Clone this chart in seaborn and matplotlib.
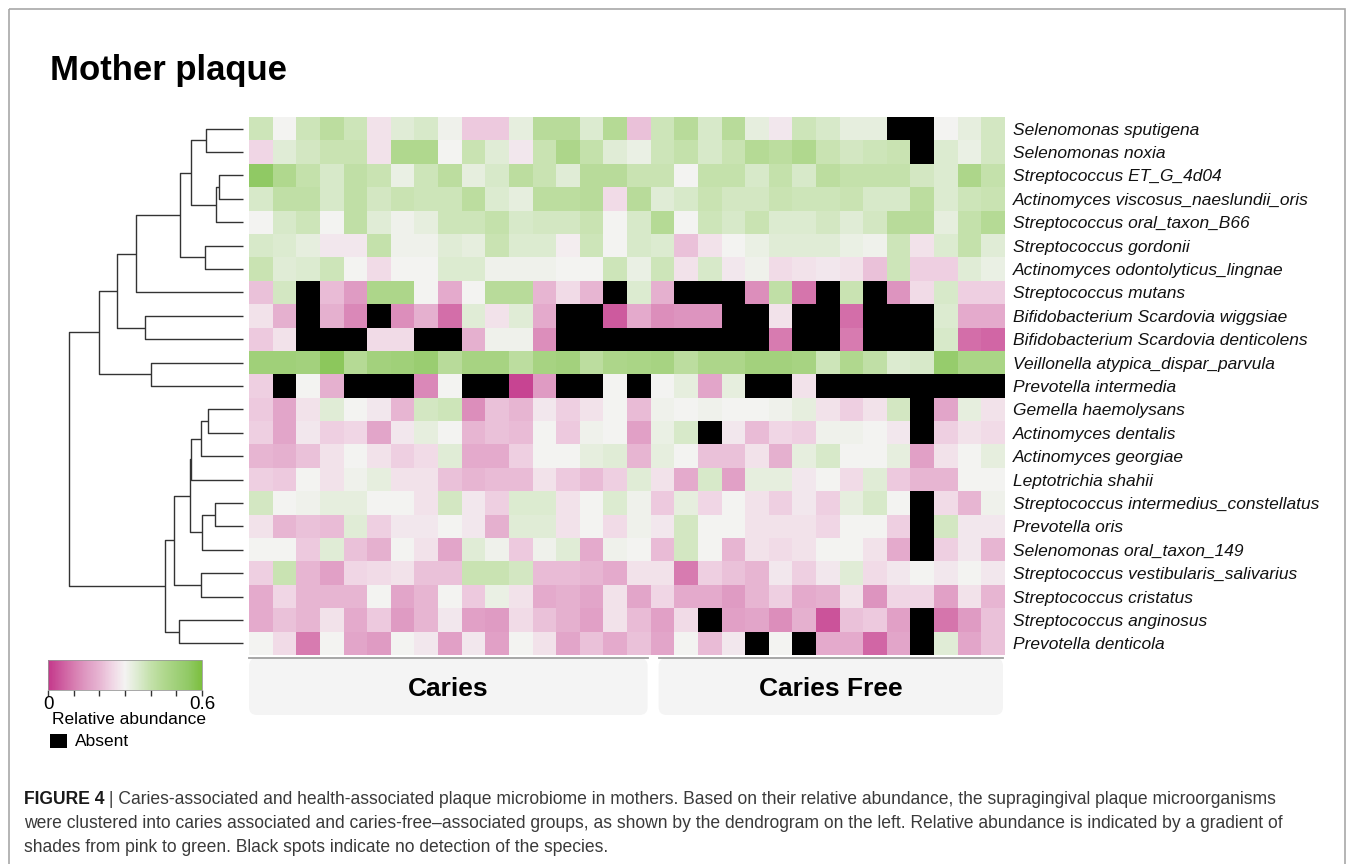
import matplotlib
matplotlib.use("Agg")
import matplotlib.pyplot as plt
from matplotlib.colors import LinearSegmentedColormap
from matplotlib.patches import Rectangle, FancyBboxPatch
import numpy as np
import pandas as pd
import seaborn as sns

W, H = 1355, 864
NA = None  # species not detected -> drawn black

species = [
    "Selenomonas sputigena", "Selenomonas noxia", "Streptococcus ET_G_4d04",
    "Actinomyces viscosus_naeslundii_oris", "Streptococcus oral_taxon_B66",
    "Streptococcus gordonii", "Actinomyces odontolyticus_lingnae",
    "Streptococcus mutans", "Bifidobacterium Scardovia wiggsiae",
    "Bifidobacterium Scardovia denticolens", "Veillonella atypica_dispar_parvula",
    "Prevotella intermedia", "Gemella haemolysans", "Actinomyces dentalis",
    "Actinomyces georgiae", "Leptotrichia shahii",
    "Streptococcus intermedius_constellatus", "Prevotella oris",
    "Selenomonas oral_taxon_149", "Streptococcus vestibularis_salivarius",
    "Streptococcus cristatus", "Streptococcus anginosus", "Prevotella denticola",
]

# relative abundance, caries mothers (17 samples)
caries_abund = [
    [.38, .30, .38, .42, .38, .27, .34, .36, .31, .23, .23, .33, .43, .43, .35, .44, .22],
    [.25, .34, .37, .39, .39, .27, .45, .45, .30, .39, .34, .28, .39, .46, .40, .34, .32],
    [.55, .45, .40, .36, .41, .39, .32, .38, .42, .33, .36, .42, .39, .34, .43, .43, .39],
    [.36, .41, .41, .36, .41, .37, .39, .38, .38, .42, .35, .33, .42, .42, .43, .26, .43],
    [.30, .36, .38, .30, .41, .34, .31, .33, .38, .38, .40, .36, .37, .37, .39, .30, .36],
    [.36, .35, .33, .28, .28, .40, .31, .31, .34, .33, .39, .35, .35, .29, .38, .30, .36],
    [.39, .34, .35, .38, .30, .26, .30, .30, .35, .35, .31, .31, .31, .30, .30, .38, .32],
    [.22, .37, NA, .21, .15, .46, .46, .30, .18, .30, .43, .43, .20, .26, .20, NA, .35],
    [.27, .19, NA, .19, .12, NA, .13, .19, .08, .34, .27, .34, .18, NA, NA, .05, .18],
    [.23, .27, NA, NA, NA, .26, .26, NA, NA, .19, .31, .31, .13, NA, NA, NA, NA],
    [.50, .50, .49, .56, .44, .49, .50, .52, .43, .48, .48, .42, .48, .49, .42, .46, .47],
    [.24, NA, .30, .19, NA, NA, NA, .12, .30, NA, NA, .02, .15, NA, NA, .30, NA],
    [.23, .17, .27, .34, .30, .28, .20, .37, .38, .13, .22, .20, .28, .24, .27, .30, .21],
    [.24, .17, .28, .24, .25, .17, .28, .33, .30, .20, .22, .21, .30, .23, .31, .30, .16],
    [.20, .19, .22, .27, .30, .27, .24, .26, .34, .18, .18, .24, .30, .30, .33, .34, .20],
    [.24, .23, .30, .27, .31, .33, .27, .27, .22, .20, .21, .21, .27, .23, .21, .24, .34],
    [.37, .30, .31, .33, .33, .30, .30, .27, .37, .28, .24, .35, .35, .27, .30, .35, .31],
    [.27, .20, .22, .21, .34, .24, .28, .28, .30, .28, .19, .34, .34, .27, .30, .26, .31],
    [.30, .30, .23, .34, .22, .19, .30, .27, .17, .34, .31, .23, .31, .34, .18, .31, .30],
    [.24, .39, .20, .16, .25, .26, .27, .22, .22, .39, .39, .37, .21, .21, .20, .18, .27],
    [.18, .25, .20, .20, .20, .30, .17, .20, .30, .23, .32, .27, .18, .19, .17, .27, .17],
    [.18, .22, .20, .27, .18, .23, .15, .20, .28, .16, .15, .26, .22, .19, .16, .27, .21],
    [.30, .26, .10, .30, .17, .15, .30, .28, .16, .28, .16, .30, .27, .17, .22, .18, .22],
]

# relative abundance, caries-free mothers (15 samples)
free_abund = [
    [.38, .43, .36, .43, .33, .28, .38, .36, .33, .33, NA, NA, .30, .33, .37],
    [.38, .40, .36, .39, .44, .42, .45, .39, .37, .38, .39, NA, .35, .32, .37],
    [.39, .30, .40, .40, .36, .40, .36, .42, .40, .40, .40, .37, .35, .46, .40],
    [.34, .36, .39, .37, .37, .39, .38, .38, .39, .36, .36, .42, .35, .38, .39],
    [.44, .30, .38, .36, .39, .35, .35, .37, .34, .37, .43, .43, .33, .40, .44],
    [.35, .22, .27, .30, .32, .34, .34, .34, .32, .31, .38, .27, .35, .40, .34],
    [.38, .27, .36, .28, .31, .26, .27, .28, .27, .22, .38, .24, .24, .34, .32],
    [.19, NA, NA, NA, .13, .41, .09, NA, .39, NA, .14, .26, .36, .24, .24],
    [.13, .14, .14, NA, NA, .27, NA, NA, .08, NA, NA, NA, .35, .18, .18],
    [NA, NA, NA, NA, NA, .10, NA, NA, .10, NA, NA, NA, .36, .08, .07],
    [.48, .42, .46, .46, .49, .49, .48, .38, .45, .41, .35, .36, .53, .47, .47],
    [.30, .33, .17, .33, NA, NA, .27, NA, NA, NA, NA, NA, NA, NA, NA],
    [.31, .30, .31, .30, .30, .31, .33, .27, .24, .27, .37, NA, .17, .33, .27],
    [.32, .36, NA, .28, .21, .25, .24, .31, .31, .30, .28, NA, .24, .27, .26],
    [.33, .30, .22, .22, .27, .19, .33, .36, .30, .30, .33, .16, .27, .30, .33],
    [.27, .18, .36, .16, .33, .33, .28, .30, .26, .34, .23, .20, .20, .30, .30],
    [.23, .33, .25, .30, .27, .24, .28, .24, .33, .36, .30, NA, .26, .20, .31],
    [.28, .37, .30, .30, .27, .27, .27, .25, .30, .30, .24, NA, .37, .28, .28],
    [.21, .37, .30, .20, .27, .26, .27, .30, .30, .27, .18, NA, .24, .28, .20],
    [.27, .10, .24, .22, .20, .28, .24, .28, .34, .26, .28, .30, .28, .30, .28],
    [.25, .18, .18, .15, .20, .24, .18, .19, .27, .14, .25, .25, .16, .27, .20],
    [.16, .26, NA, .16, .17, .13, .19, .04, .22, .23, .16, NA, .09, .15, .22],
    [.17, .30, .21, .28, NA, .30, NA, .18, .18, .07, .17, NA, .34, .17, .22],
]

group_names = ["Caries", "Caries Free"]

# row dendrogram, scipy-style merges: (child a, child b, height); leaves 0..22
row_linkage = [
    (0, 1, 1.12), (2, 3, 0.73), (24, 4, 0.82), (23, 25, 1.56), (5, 6, 1.14),
    (26, 27, 1.89), (28, 7, 3.20), (8, 9, 2.94), (29, 30, 3.77), (10, 11, 2.76),
    (31, 32, 4.32), (12, 13, 1.04), (34, 14, 1.25), (35, 15, 1.57), (16, 17, 0.84),
    (37, 18, 1.23), (36, 38, 1.59), (19, 20, 1.25), (39, 40, 2.08), (21, 22, 1.91),
    (41, 42, 2.35), (33, 43, 5.22),
]

cbar_ticks = [0, 0.1, 0.2, 0.3, 0.4, 0.5, 0.6]
cbar_ticklabels = ["0", "", "", "", "", "", "0.6"]

caption_lines = [
    "Caries-associated and health-associated plaque microbiome in mothers. Based on their relative abundance, the supragingival plaque microorganisms",
    "were clustered into caries associated and caries-free\u2013associated groups, as shown by the dendrogram on the left. Relative abundance is indicated by a gradient of",
    "shades from pink to green. Black spots indicate no detection of the species.",
]

# pink -> white -> green, as in the original colour key
cmap = LinearSegmentedColormap.from_list("pink_green", [
    (0.0, "#c4378a"), (1 / 12, "#cd5a9e"), (2 / 12, "#d77cb0"), (3 / 12, "#df9bc3"),
    (4 / 12, "#e7b5d2"), (5 / 12, "#f0d6e5"), (6 / 12, "#f4f3f2"), (7 / 12, "#dcebd0"),
    (8 / 12, "#c4e1ab"), (9 / 12, "#b1d88f"), (10 / 12, "#a0d07a"), (11 / 12, "#90c964"),
    (1.0, "#7cbf3e"),
])

plt.rcParams["font.family"] = ["Liberation Sans", "DejaVu Sans"]


def box(l, t, r, b):
    return [l / W, 1 - b / H, (r - l) / W, (b - t) / H]


def draw_dendrogram(ax, merges, n_leaves):
    pos = {i: i + 0.5 for i in range(n_leaves)}
    hgt = {i: 0.0 for i in range(n_leaves)}
    for k, (a, b, h) in enumerate(merges):
        ax.plot([hgt[a], h, h, hgt[b]], [pos[a], pos[a], pos[b], pos[b]],
                color="#333333", lw=1.0, clip_on=False, solid_capstyle="butt")
        pos[n_leaves + k] = (pos[a] + pos[b]) / 2
        hgt[n_leaves + k] = h
    ax.set_xlim(max(hgt.values()), 0)
    ax.set_ylim(n_leaves, 0)
    ax.axis("off")


fig = plt.figure(figsize=(W / 100, H / 100), dpi=100)

values = np.hstack([np.array(caries_abund, dtype=float), np.array(free_abund, dtype=float)])
df = pd.DataFrame(values, index=species)
n_caries = len(caries_abund[0])
n_cols = values.shape[1]

hm_l, hm_t, hm_r, hm_b = 249, 117, 1005, 655
ax = fig.add_axes(box(hm_l, hm_t, hm_r, hm_b))
ax.set_facecolor("black")
cax = fig.add_axes(box(48, 660, 202, 690))
sns.heatmap(df, cmap=cmap, vmin=0, vmax=0.6, ax=ax, cbar_ax=cax,
            cbar_kws={"orientation": "horizontal", "ticks": cbar_ticks},
            xticklabels=False, yticklabels=True)
ax.yaxis.tick_right()
ax.tick_params(axis="y", length=0, pad=6, labelsize=12.5, rotation=0)
for lbl in ax.get_yticklabels():
    lbl.set_fontstyle("italic")
    lbl.set_color("#111111")

cbar = ax.collections[0].colorbar
cbar.set_ticklabels(cbar_ticklabels)
cbar.ax.tick_params(length=4, width=1, labelsize=13.5, pad=0, color="#333333")
cbar.outline.set_edgecolor("#999999")
cbar.outline.set_linewidth(0.6)

dax = fig.add_axes(box(69, hm_t, 243, hm_b))
draw_dendrogram(dax, row_linkage, len(species))

# overlay in pixel coordinates for frame, group bars and text
ov = fig.add_axes([0, 0, 1, 1])
ov.set_xlim(0, W)
ov.set_ylim(H, 0)
ov.axis("off")

ov.add_patch(Rectangle((9, 9), 1336, 870, fill=False, ec="#a8a8a8", lw=1.2, clip_on=False))
ov.text(50, 80, "Mother plaque", fontsize=25, fontweight="bold", va="baseline")

cell = (hm_r - hm_l) / n_cols
spans = [(0, n_caries), (n_caries, n_cols)]
for name, (c0, c1) in zip(group_names, spans):
    x0 = hm_l + c0 * cell + (0 if c0 == 0 else 8)
    x1 = hm_l + c1 * cell - (3 if c1 < n_cols else 2)
    ov.add_patch(FancyBboxPatch((x0, 658), x1 - x0, 57,
                                boxstyle="round,pad=0,rounding_size=8",
                                fc="#f4f4f4", ec="none"))
    ov.plot([x0, x1], [657.5, 657.5], color="#a0a0a0", lw=1.3)
    ov.text((x0 + x1) / 2, 689, name, fontsize=19, fontweight="bold",
            ha="center", va="center")

ov.text(52, 719, "Relative abundance", fontsize=12.5, va="center")
ov.add_patch(Rectangle((50, 734), 17, 14, fc="black", ec="none"))
ov.text(75, 742, "Absent", fontsize=12.5, va="center")

renderer = fig.canvas.get_renderer()
cap_y = [800, 824, 848]
cap_size = 12.65
lead = ov.text(24, cap_y[0], "FIGURE 4", fontsize=cap_size, fontweight="bold",
               va="center", color="#1a1a1a")
x_end = lead.get_window_extent(renderer=renderer).x1
ov.text(x_end, cap_y[0], " | " + caption_lines[0], fontsize=cap_size,
        va="center", color="#3a3a3a")
for y, line in zip(cap_y[1:], caption_lines[1:]):
    ov.text(24, y, line, fontsize=cap_size, va="center", color="#3a3a3a")

fig.savefig("out.png", dpi=100)
